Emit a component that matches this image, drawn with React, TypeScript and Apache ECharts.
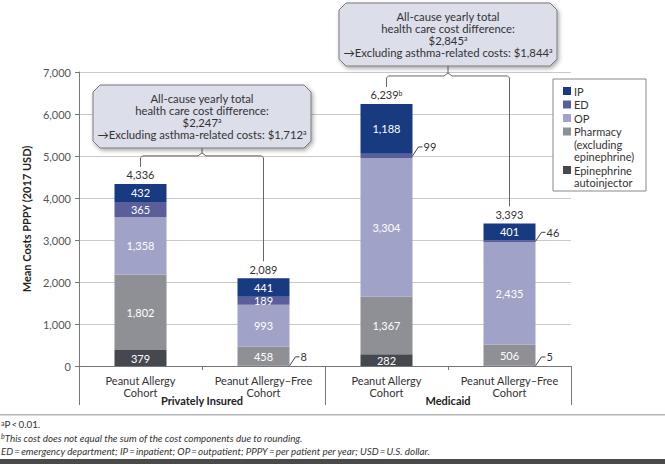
import React, { useEffect, useRef } from "react";
import * as echarts from "echarts";

// ---------- data ----------
const categories = [
  "Peanut Allergy\nCohort",
  "Peanut Allergy\u2013Free\nCohort",
  "Peanut Allergy\nCohort",
  "Peanut Allergy\u2013Free\nCohort",
];
const groups = ["Privately Insured", "Medicaid"];

const epinephrine = [379, 8, 282, 5];
const pharmacy = [1802, 458, 1367, 506];
const outpatient = [1358, 993, 3304, 2435];
const emergency = [365, 189, 99, 46];
const inpatient = [432, 441, 1188, 401];
const totals = [4336, 2089, 6239, 3393];
const totalNotes = ["", "", "b", ""];

const seriesNames = [
  "Epinephrine\nautoinjector",
  "Pharmacy\n(excluding\nepinephrine)",
  "OP",
  "ED",
  "IP",
];
const seriesValues = [epinephrine, pharmacy, outpatient, emergency, inpatient];

const yMin = 0;
const yMax = 7000;
const yInterval = 1000;

const calloutPairs = [
  [0, 1],
  [2, 3],
];
const allCauseDiff = ["$2,247", "$2,845"];
const excludingAsthmaDiff = ["$1,712", "$1,844"];

const footnotes = [
  "{sup|a}P\u2009<\u20090.01.",
  "{supi|b}This cost does not equal the sum of the cost components due to rounding.",
  "ED\u2009=\u2009emergency department; IP\u2009=\u2009inpatient; OP\u2009=\u2009outpatient; PPPY\u2009=\u2009per patient per year; USD\u2009=\u2009U.S. dollar.",
];

// ---------- style ----------
const FONT = "Lato, 'Open Sans', sans-serif";
const colors = ["#45484f", "#8e9096", "#a0a3c7", "#5a5f9b", "#173a80"];
const BAR_W = 52;
const OUTSIDE_LIMIT = 150;

const fmt = (v: number) => v.toLocaleString("en-US");

export default function App() {
  const ref = useRef<HTMLDivElement>(null);

  useEffect(() => {
    const chart = echarts.init(ref.current!, null, { renderer: "svg" });

    const series = seriesValues.map((vals, si) => ({
      name: seriesNames[si],
      type: "bar",
      stack: "cost",
      barWidth: BAR_W,
      xAxisIndex: 0,
      yAxisIndex: 0,
      itemStyle: { color: colors[si] },
      label: {
        show: true,
        position: "inside",
        color: "#ffffff",
        fontSize: 11,
        fontFamily: FONT,
        formatter: (p: any) => (p.value >= OUTSIDE_LIMIT ? fmt(p.value) : ""),
      },
      emphasis: { disabled: true },
      data: vals,
    }));

    chart.setOption({
      animation: false,
      textStyle: { fontFamily: FONT },
      grid: { left: 79, right: 94, top: 72, bottom: 98 },
      xAxis: [
        {
          type: "category",
          data: categories,
          position: "bottom",
          axisLine: { lineStyle: { color: "#777", width: 1 } },
          axisTick: { show: true, length: 4, interval: 0, lineStyle: { color: "#777" } },
          axisLabel: {
            interval: 0,
            fontSize: 11,
            lineHeight: 12,
            color: "#333",
            margin: 8,
            fontFamily: FONT,
          },
        },
        {
          type: "category",
          data: groups,
          position: "bottom",
          offset: 0,
          axisLine: { show: false },
          axisTick: { show: true, length: 39, interval: 0, lineStyle: { color: "#777" } },
          axisLabel: {
            interval: 0,
            fontSize: 11,
            fontWeight: "bold",
            color: "#222",
            margin: 29,
            fontFamily: FONT,
          },
        },
      ],
      yAxis: {
        type: "value",
        min: yMin,
        max: yMax,
        interval: yInterval,
        name: "Mean Costs PPPY (2017 USD)",
        nameLocation: "middle",
        nameGap: 37,
        nameTextStyle: { fontSize: 11, fontWeight: "bold", color: "#222", fontFamily: FONT },
        axisLine: { show: true, lineStyle: { color: "#777" } },
        axisTick: { show: true, length: 4, lineStyle: { color: "#777" } },
        axisLabel: {
          fontSize: 11,
          color: "#555",
          margin: 8,
          fontFamily: FONT,
          formatter: (v: number) => fmt(v),
        },
        splitLine: { show: true, lineStyle: { color: "#c9c9c9", width: 1 } },
      },
      series,
    });

    const toPx = (ci: number, v: number) =>
      chart.convertToPixel({ seriesIndex: 0 }, [ci, v]) as number[];

    const graphics: any[] = [];
    const supRich = {
      sup: { fontSize: 7, verticalAlign: "top", lineHeight: 8, fontFamily: FONT, fill: "#333" },
      supi: { fontSize: 7, verticalAlign: "top", lineHeight: 8, fontFamily: FONT, fill: "#333", fontStyle: "italic" },
    };

    // totals above bars
    const tops: number[][] = [];
    totals.forEach((t, ci) => {
      const [x, y] = toPx(ci, t);
      tops.push([x, y]);
      graphics.push({
        type: "text",
        x,
        y: y - 9,
        z: 10,
        style: {
          text: fmt(t) + (totalNotes[ci] ? `{sup|${totalNotes[ci]}}` : ""),
          fontSize: 11,
          fontFamily: FONT,
          fill: "#333",
          align: "center",
          verticalAlign: "middle",
          rich: supRich,
        },
      });
    });

    // outside labels for thin segments
    seriesValues.forEach((vals, si) => {
      vals.forEach((v, ci) => {
        if (v >= OUTSIDE_LIMIT) return;
        let base = 0;
        for (let k = 0; k < si; k++) base += seriesValues[k][ci];
        const [x, y] = toPx(ci, base + v / 2);
        const xr = x + BAR_W / 2;
        const ty = y - 9;
        graphics.push({
          type: "polyline",
          z: 10,
          shape: { points: [[xr, y], [xr + 6, ty], [xr + 10, ty]] },
          style: { stroke: "#444", lineWidth: 1, fill: "none" },
        });
        graphics.push({
          type: "text",
          x: xr + 11,
          y: ty,
          z: 10,
          style: {
            text: fmt(v),
            fontSize: 11,
            fontFamily: FONT,
            fill: "#333",
            align: "left",
            verticalAlign: "middle",
          },
        });
      });
    });

    // callouts
    const boxTops = [85, 3];
    const boxH = 63;
    const boxW = 218;
    const cut = 7;
    calloutPairs.forEach(([a, b], i) => {
      const [x1, t1] = tops[a];
      const [x2, t2] = tops[b];
      const xm = (x1 + x2) / 2;
      const bx = xm - boxW / 2;
      const by = boxTops[i];
      const bb = by + boxH;
      const e1 = t1 - 17;
      const e2 = t2 - 17;
      const yb = Math.min(e1, e2) - 11;
      graphics.push({
        type: "polyline",
        z: 8,
        shape: {
          points: [
            [x1, e1], [x1, yb + 2], [x1 + 2, yb], [xm - 4, yb], [xm, yb - 3], [xm, bb],
          ],
        },
        style: { stroke: "#666", lineWidth: 1, fill: "none" },
      });
      graphics.push({
        type: "polyline",
        z: 8,
        shape: { points: [[xm, yb - 3], [xm + 4, yb], [x2 - 2, yb], [x2, yb + 2], [x2, e2]] },
        style: { stroke: "#666", lineWidth: 1, fill: "none" },
      });
      graphics.push({
        type: "polygon",
        z: 9,
        shape: {
          points: [
            [bx + cut, by], [bx + boxW - cut, by], [bx + boxW, by + cut], [bx + boxW, bb - cut],
            [bx + boxW - cut, bb], [bx + cut, bb], [bx, bb - cut], [bx, by + cut],
          ],
        },
        style: {
          fill: "#dcdeea",
          stroke: "#7a7a7a",
          lineWidth: 1,
          shadowBlur: 4,
          shadowOffsetX: 1.5,
          shadowOffsetY: 2,
          shadowColor: "rgba(0,0,0,0.35)",
        },
      });
      graphics.push({
        type: "text",
        z: 10,
        x: xm,
        y: by + 7,
        style: {
          text:
            "All-cause yearly total\nhealth care cost difference:\n" +
            allCauseDiff[i] +
            "{sup|a}\n\u2192Excluding asthma-related costs: " +
            excludingAsthmaDiff[i] +
            "{sup|a}",
          fontSize: 11.3,
          lineHeight: 12,
          fontFamily: FONT,
          fill: "#333",
          align: "center",
          verticalAlign: "top",
          rich: supRich,
        },
      });
    });

    // legend
    const lx = 553;
    const ly = 79;
    graphics.push({
      type: "rect",
      z: 9,
      shape: { x: lx, y: ly, width: 93, height: 112 },
      style: { fill: "#fff", stroke: "#888", lineWidth: 1 },
    });
    let cy = 91;
    for (let si = seriesNames.length - 1; si >= 0; si--) {
      const name = seriesNames[si];
      const lines = name.split("\n").length;
      graphics.push({
        type: "rect",
        z: 10,
        shape: { x: lx + 10, y: cy - 4, width: 8, height: 8 },
        style: { fill: colors[si] },
      });
      graphics.push({
        type: "text",
        z: 10,
        x: lx + 21,
        y: cy - 6.25,
        style: {
          text: name,
          fontSize: 11,
          lineHeight: 12.5,
          fontFamily: FONT,
          fill: "#333",
          align: "left",
          verticalAlign: "top",
        },
      });
      cy += lines * 12.5 + 1;
    }

    // footnotes
    graphics.push({
      type: "rect",
      z: 5,
      shape: { x: 0, y: 414, width: 665, height: 1.5 },
      style: { fill: "#b5b5b5" },
    });
    footnotes.forEach((f, i) => {
      graphics.push({
        type: "text",
        z: 10,
        x: 1,
        y: 424 + i * 13.5,
        style: {
          text: f,
          fontSize: 9.8,
          fontStyle: i === 0 ? "normal" : "italic",
          fontFamily: FONT,
          fill: "#333",
          align: "left",
          verticalAlign: "middle",
          rich: supRich,
        },
      });
    });
    graphics.push({
      type: "rect",
      z: 5,
      shape: { x: 0, y: 459, width: 665, height: 5 },
      style: { fill: "#4a4a4a" },
    });

    chart.setOption({ graphic: graphics });

    return () => chart.dispose();
  }, []);

  return (
    <div
      ref={ref}
      style={{ position: "fixed", left: 0, top: 0, width: 665, height: 464, background: "#fff" }}
    />
  );
}
